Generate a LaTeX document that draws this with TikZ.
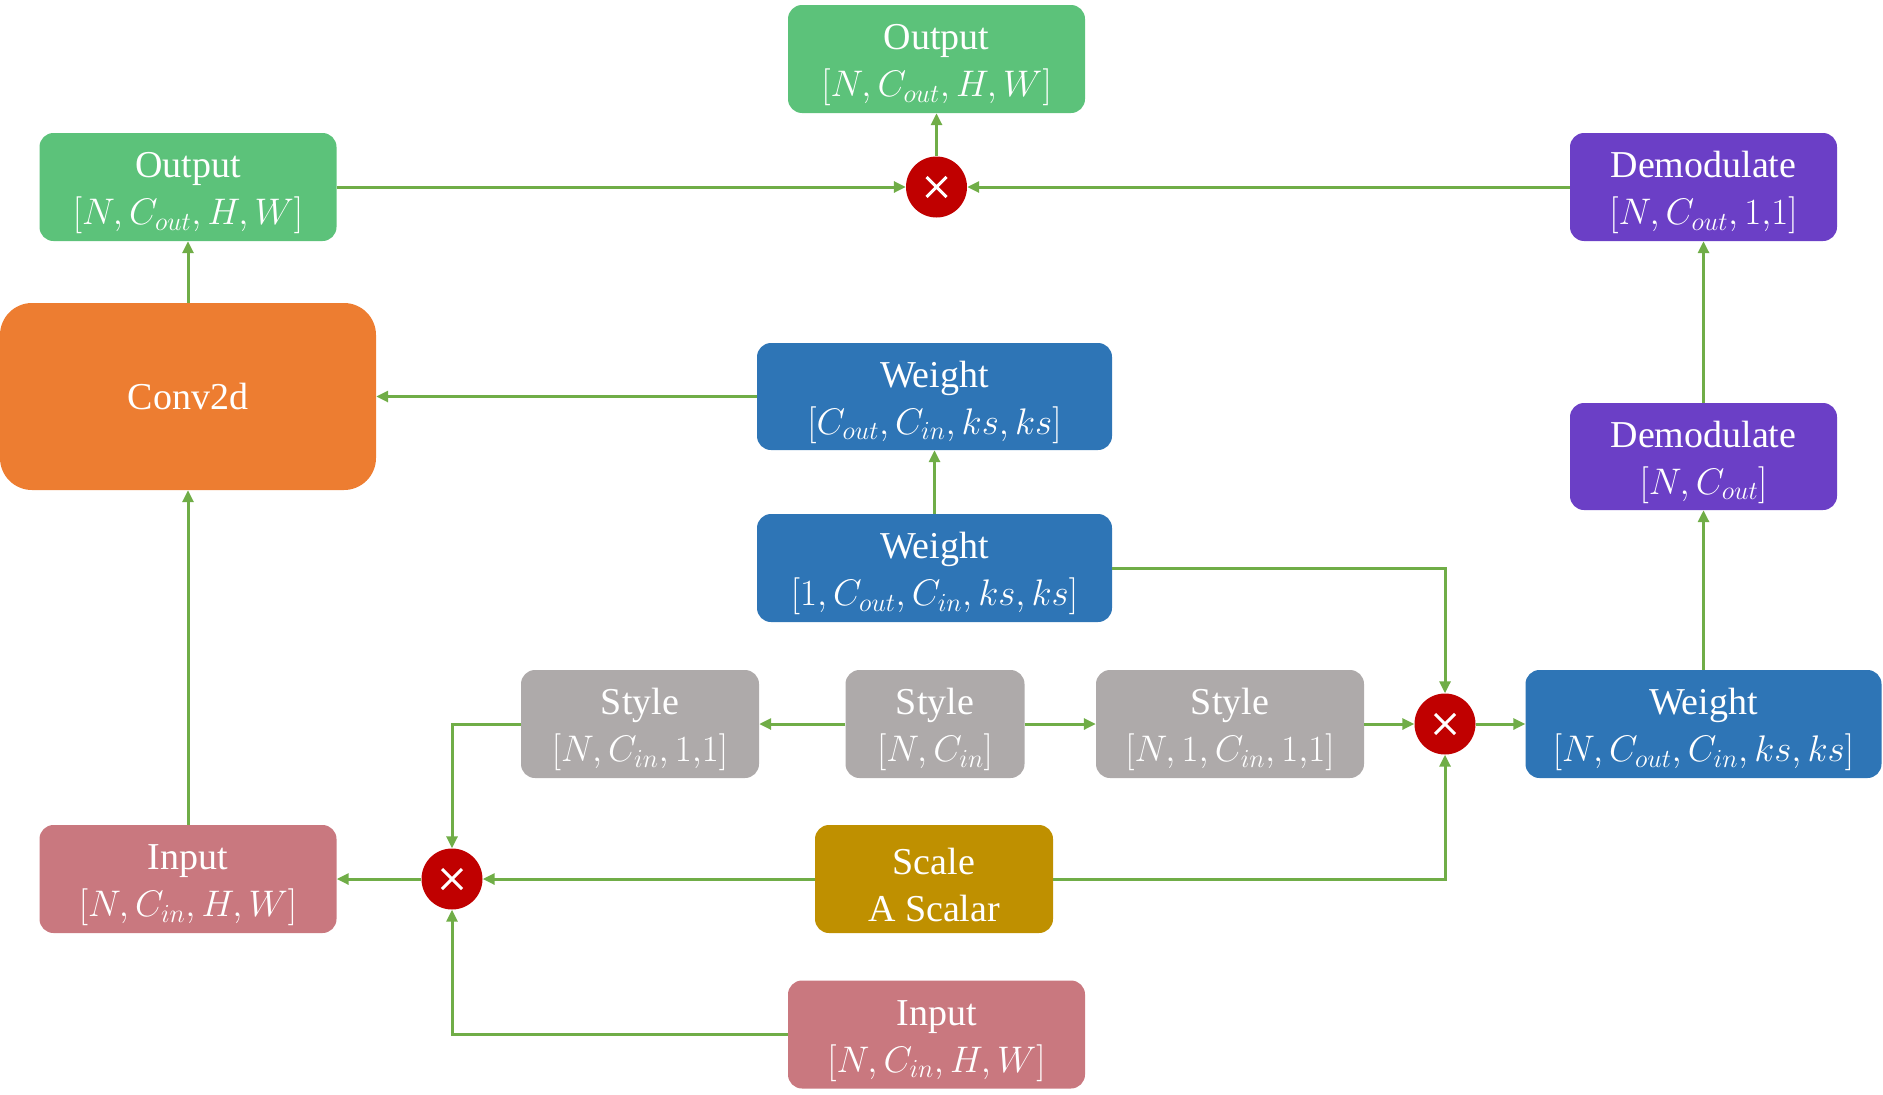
\documentclass[tikz,border=0pt]{standalone}
\usepackage{fix-cm}
\usepackage{fontspec}
\setmainfont{Liberation Serif}
\usetikzlibrary{arrows.meta}
\DeclareMathSizes{38}{37}{26}{19}
\definecolor{gfill}{HTML}{5CC27A}
\definecolor{lgreen}{HTML}{70AD47}
\definecolor{ofill}{HTML}{ED7D31}
\definecolor{bfill}{HTML}{2E75B6}
\definecolor{pfill}{HTML}{6B3FC6}
\definecolor{grfill}{HTML}{AEAAAA}
\definecolor{pkfill}{HTML}{C9787F}
\definecolor{yfill}{HTML}{BF9000}
\definecolor{rfill}{HTML}{C00000}
\newcommand{\topstrut}{\rule{0pt}{38pt}}
\tikzset{
  box/.style={rounded corners=14pt, text=white, align=center, inner sep=0pt,
    font=\fontsize{38}{47}\selectfont},
  conn/.style={draw=lgreen, line width=3pt, -{Triangle[length=12pt,width=11pt]}},
  mulnode/.style={circle, fill=rfill, minimum size=61pt, inner sep=0pt,
    path picture={\draw[white,line width=3pt]
      ([shift={(-10pt,-10pt)}]path picture bounding box.center) -- ([shift={(10pt,10pt)}]path picture bounding box.center)
      ([shift={(-10pt,10pt)}]path picture bounding box.center) -- ([shift={(10pt,-10pt)}]path picture bounding box.center);}}
}
\begin{document}
\begin{tikzpicture}[x=1pt,y=-1pt]
\useasboundingbox (0,0) rectangle (1883,1095);
% nodes
\node[box, fill=gfill, minimum width=297pt, minimum height=108pt] (outT) at (936.5,59) {\topstrut Output\\$[N, C_{out}, H, W]$};
\node[mulnode] (mT) at (936.5,187) {};
\node[box, fill=gfill, minimum width=297pt, minimum height=108pt] (outL) at (188,187) {\topstrut Output\\$[N, C_{out}, H, W]$};
\node[box, fill=pfill, minimum width=267pt, minimum height=108pt] (demT) at (1703.5,187) {\topstrut Demodulate\\$[N, C_{out}, 1{,}1]$};
\node[box, fill=ofill, rounded corners=32pt, minimum width=376pt, minimum height=187pt] (conv) at (188,396.5) {Conv2d};
\node[box, fill=bfill, minimum width=355pt, minimum height=107pt] (w1) at (934.5,396.5) {\topstrut Weight\\$[C_{out}, C_{in}, ks, ks]$};
\node[box, fill=bfill, minimum width=355pt, minimum height=108pt] (w2) at (934.5,568) {\topstrut Weight\\$[1, C_{out}, C_{in}, ks, ks]$};
\node[box, fill=pfill, minimum width=267pt, minimum height=107pt] (demM) at (1703.5,456.5) {\topstrut Demodulate\\$[N, C_{out}]$};
\node[box, fill=grfill, minimum width=238pt, minimum height=108pt] (stA) at (640,724) {\topstrut Style\\$[N, C_{in}, 1{,}1]$};
\node[box, fill=grfill, minimum width=179pt, minimum height=108pt] (stB) at (935,724) {\topstrut Style\\$[N, C_{in}]$};
\node[box, fill=grfill, minimum width=268pt, minimum height=108pt] (stC) at (1230,724) {\topstrut Style\\$[N, 1, C_{in}, 1{,}1]$};
\node[mulnode] (mR) at (1445,724) {};
\node[box, fill=bfill, minimum width=356pt, minimum height=108pt] (wR) at (1703.5,724) {\topstrut Weight\\$[N, C_{out}, C_{in}, ks, ks]$};
\node[box, fill=pkfill, minimum width=297pt, minimum height=108pt] (inL) at (188,879) {\topstrut Input\\$[N, C_{in}, H, W]$};
\node[mulnode] (mL) at (452,879) {};
\node[box, fill=yfill, minimum width=238pt, minimum height=108pt] (scale) at (934,879) {\topstrut Scale\\A Scalar};
\node[box, fill=pkfill, minimum width=297pt, minimum height=108pt] (inB) at (936.5,1034.5) {\topstrut Input\\$[N, C_{in}, H, W]$};
% connectors
\draw[conn] (mT) -- (outT);
\draw[conn] (outL) -- (mT);
\draw[conn] (demT) -- (mT);
\draw[conn] (conv) -- (outL);
\draw[conn] (w1) -- (conv);
\draw[conn] (w2) -- (w1);
\draw[conn] (w2.east) -| (mR.north);
\draw[conn] (demM) -- (demT);
\draw[conn] (wR) -- (demM);
\draw[conn] (stB) -- (stA);
\draw[conn] (stB) -- (stC);
\draw[conn] (stC) -- (mR);
\draw[conn] (mR) -- (wR);
\draw[conn] (scale.east) -| (mR.south);
\draw[conn] (stA.west) -| (mL.north);
\draw[conn] (scale) -- (mL);
\draw[conn] (mL) -- (inL);
\draw[conn] (inB.west) -| (mL.south);
\draw[conn] (inL) -- (conv);
\end{tikzpicture}
\end{document}
